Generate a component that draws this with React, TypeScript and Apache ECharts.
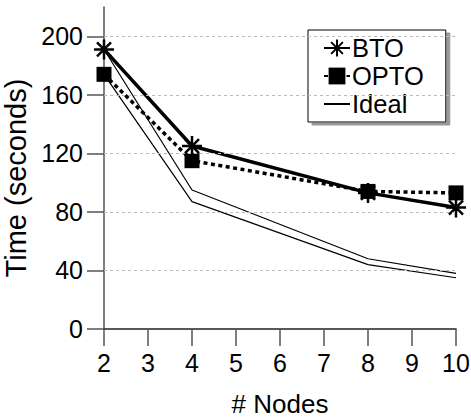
import React, { useEffect, useRef } from "react";
import * as echarts from "echarts";

// Runtime (seconds) by node count
const nodes = [2, 4, 8, 10];
const btoTimes = [191, 125, 93, 83];
const optoTimes = [174, 115, 94, 93];
const idealFromBto = [191, 95, 48, 38];
const idealFromOpto = [174, 87, 44, 35];
const yTicks = [0, 40, 80, 120, 160, 200];
const gridValues = [40, 80, 120, 160, 200];

const FONT = "Liberation Sans";
const ASTERISK = "path://M10 0L10 20M0 10L20 10M3 3L17 17M3 17L17 3";

const pairs = (ys: number[]) => nodes.map((x, i) => [x, ys[i]]);

export default function App() {
  const ref = useRef<HTMLDivElement>(null);

  useEffect(() => {
    if (!ref.current) return;
    const chart = echarts.init(ref.current, null, { renderer: "svg" });
    chart.setOption({
      animation: false,
      textStyle: { fontFamily: FONT },
      grid: { left: 104, right: 15, top: 7, bottom: 89, outerBoundsMode: "none", containLabel: false },
      xAxis: {
        type: "value",
        min: 2,
        max: 10,
        interval: 1,
        name: "# Nodes",
        nameLocation: "middle",
        nameGap: 62,
        nameTextStyle: { fontSize: 26, lineHeight: 26, color: "#000", fontFamily: FONT },
        axisLine: { lineStyle: { color: "#222", width: 1.5 } },
        axisTick: { length: 17, lineStyle: { color: "#555", width: 1.5 } },
        axisLabel: { fontSize: 25, color: "#000", margin: 21, fontFamily: FONT },
        splitLine: { show: false },
      },
      yAxis: {
        type: "value",
        min: 0,
        max: 220,
        interval: 40,
        name: "Time (seconds)",
        nameLocation: "middle",
        nameGap: 69,
        nameTextStyle: { fontSize: 29, color: "#000", fontFamily: FONT, padding: [0, 20, 0, 0] },
        axisLine: { show: true, lineStyle: { color: "#555", width: 1.5 } },
        axisTick: { show: true, length: 17, customValues: yTicks, lineStyle: { color: "#555", width: 1.5 } },
        axisLabel: { fontSize: 25, color: "#000", margin: 21, customValues: yTicks, fontFamily: FONT },
        splitLine: { show: false },
      },
      legend: {
        data: ["BTO", "OPTO", "Ideal"],
        orient: "vertical",
        left: 308,
        top: 30,
        padding: [5, 22, 5, 15],
        itemGap: 2,
        itemWidth: 26,
        itemHeight: 21,
        backgroundColor: "#fff",
        borderColor: "#000",
        borderWidth: 1,
        borderRadius: 0,
        shadowColor: "#999",
        shadowBlur: 0,
        shadowOffsetX: 4,
        shadowOffsetY: 3,
        textStyle: { fontSize: 25.5, lineHeight: 24, color: "#000", fontFamily: FONT, padding: [0, 0, 0, -3] },
      },
      series: [
        {
          name: "Ideal",
          type: "line",
          data: pairs(idealFromBto),
          symbol: "circle",
          showSymbol: false,
          lineStyle: { color: "#000", width: 1.2 },
          itemStyle: { color: "rgba(0,0,0,0)" },
          silent: true,
          markLine: {
            silent: true,
            symbol: ["none", "none"],
            label: { show: false },
            lineStyle: { color: "#bbb", type: [3, 3], width: 1 },
            data: gridValues.map((v) => ({ yAxis: v })),
          },
        },
        {
          name: "Ideal",
          type: "line",
          data: pairs(idealFromOpto),
          symbol: "circle",
          showSymbol: false,
          lineStyle: { color: "#000", width: 1.2 },
          itemStyle: { color: "rgba(0,0,0,0)" },
          silent: true,
        },
        {
          name: "BTO",
          type: "line",
          data: pairs(btoTimes),
          symbol: ASTERISK,
          symbolSize: 20,
          lineStyle: { color: "#000", width: 3.5 },
          itemStyle: { color: "#000", borderColor: "#000", borderWidth: 2.5 },
          silent: true,
        },
        {
          name: "OPTO",
          type: "line",
          data: pairs(optoTimes),
          symbol: "rect",
          symbolSize: 15,
          lineStyle: { color: "#000", width: 3.5, type: [4, 3.5] },
          itemStyle: { color: "#000" },
          silent: true,
        },
      ],
    });
    return () => chart.dispose();
  }, []);

  return (
    <div
      ref={ref}
      style={{ position: "fixed", left: 0, top: 0, width: 471, height: 418, background: "#fff" }}
    />
  );
}
